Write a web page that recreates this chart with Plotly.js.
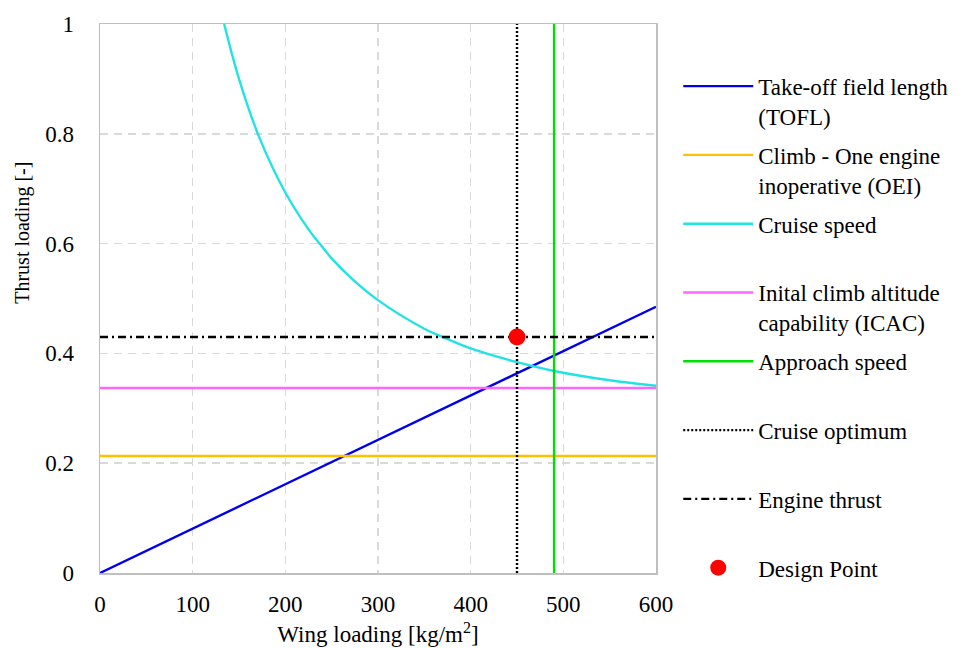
<!DOCTYPE html>
<html>
<head>
<meta charset="utf-8">
<script src="https://cdn.plot.ly/plotly-3.0.1.min.js"></script>
<style>
  html, body { margin: 0; padding: 0; background: #ffffff; }
  #chart { width: 973px; height: 648px; }
</style>
</head>
<body>
<div id="chart"></div>
<script>
// Constraint diagram: thrust loading vs wing loading
const tofl_x = [0, 600];
const tofl_y = [0, 0.485];

const oei_x = [0, 600];
const oei_y = [0.213, 0.213];

const cruise_x = [134, 150, 172, 200, 225, 238, 250, 270, 300, 350, 371, 400, 450, 490, 550, 600];
const cruise_y = [1.0, 0.90, 0.793, 0.693, 0.626, 0.598, 0.573, 0.539, 0.497, 0.445, 0.429, 0.409, 0.384, 0.368, 0.351, 0.341];

const icac_x = [0, 600];
const icac_y = [0.337, 0.337];

const approach_x = [490, 490];
const approach_y = [0, 1];

const cruiseOpt_x = [450, 450];
const cruiseOpt_y = [0, 1];

const thrust_x = [0, 600];
const thrust_y = [0.43, 0.43];

const design_x = [450];
const design_y = [0.43];

const names = [
  'Take-off field length<br>(TOFL)',
  'Climb - One engine<br>inoperative (OEI)',
  'Cruise speed<br> ',
  'Inital climb altitude<br>capability (ICAC)',
  'Approach speed<br> ',
  'Cruise optimum<br> ',
  'Engine thrust<br> ',
  'Design Point<br> '
];

const xTicks = [0, 100, 200, 300, 400, 500, 600];
const yTicks = [0, 0.2, 0.4, 0.6, 0.8, 1];
const yTickText = ['0', '0.2', '0.4', '0.6', '0.8', '1'];

const FONT = '"Liberation Serif", serif';
const FS = 23;

function lineTrace(x, y, name, color, dash, group, shape) {
  return {
    x: x, y: y, name: name, type: 'scatter', mode: 'lines',
    legendgroup: group,
    line: { color: color, width: 2.4, dash: dash || 'solid', shape: shape || 'linear' },
    hoverinfo: 'skip'
  };
}

const data = [
  lineTrace(tofl_x, tofl_y, names[0], '#0000ee', 'solid', 'g1'),
  lineTrace(oei_x, oei_y, names[1], '#ffc000', 'solid', 'g2'),
  lineTrace(cruise_x, cruise_y, names[2], '#22e3e3', 'solid', 'g3', 'spline'),
  lineTrace(icac_x, icac_y, names[3], '#ff66ff', 'solid', 'g4'),
  lineTrace(approach_x, approach_y, names[4], '#00e000', 'solid', 'g5'),
  lineTrace(cruiseOpt_x, cruiseOpt_y, names[5], '#000000', '2px,2px', 'g6'),
  lineTrace(thrust_x, thrust_y, names[6], '#000000', '8px,4px,2px,4px', 'g7'),
  {
    x: design_x, y: design_y, name: names[7], type: 'scatter', mode: 'markers',
    legendgroup: 'g8',
    marker: { color: '#ff0000', size: 17 },
    hoverinfo: 'skip'
  }
];

const layout = {
  width: 973,
  height: 648,
  paper_bgcolor: '#ffffff',
  plot_bgcolor: '#ffffff',
  margin: { l: 100, r: 317, t: 24, b: 75 },
  font: { family: FONT, size: FS, color: '#000000' },
  showlegend: true,
  legend: {
    x: 1.04, xanchor: 'left',
    y: 0.926, yanchor: 'top',
    valign: 'top',
    itemwidth: 70,
    itemsizing: 'trace',
    tracegroupgap: 6,
    traceorder: 'grouped',
    font: { family: FONT, size: FS, color: '#000000' },
    bgcolor: 'rgba(0,0,0,0)'
  },
  xaxis: {
    range: [0, 600],
    tickvals: xTicks,
    ticktext: xTicks.map(String),
    showgrid: true,
    gridcolor: '#d9d9d9',
    gridwidth: 1.5,
    griddash: '8px,6px',
    zeroline: false,
    showline: true,
    linecolor: '#bfbfbf',
    linewidth: 1.5,
    mirror: true,
    ticks: '',
    ticklen: 0,
    ticklabelstandoff: 10,
    tickfont: { family: FONT, size: FS, color: '#000000' },
    title: { text: 'Wing loading [kg/m<sup>2</sup>]', font: { family: FONT, size: FS, color: '#000000' }, standoff: 10 }
  },
  yaxis: {
    range: [0, 1],
    tickvals: yTicks,
    ticktext: yTickText,
    showgrid: true,
    gridcolor: '#d9d9d9',
    gridwidth: 1.5,
    griddash: '8px,6px',
    zeroline: false,
    showline: true,
    linecolor: '#bfbfbf',
    linewidth: 1.5,
    mirror: true,
    ticks: '',
    ticklen: 0,
    ticklabelstandoff: 20,
    tickfont: { family: FONT, size: FS, color: '#000000' }
  },
  annotations: [{
    text: 'Thrust loading [-]',
    xref: 'paper', yref: 'paper',
    x: -0.14, y: 0.62,
    xanchor: 'center', yanchor: 'middle',
    textangle: -90,
    showarrow: false,
    font: { family: FONT, size: 20, color: '#000000' }
  }]
};

Plotly.newPlot('chart', data, layout, { displayModeBar: false, staticPlot: true });
</script>
</body>
</html>
